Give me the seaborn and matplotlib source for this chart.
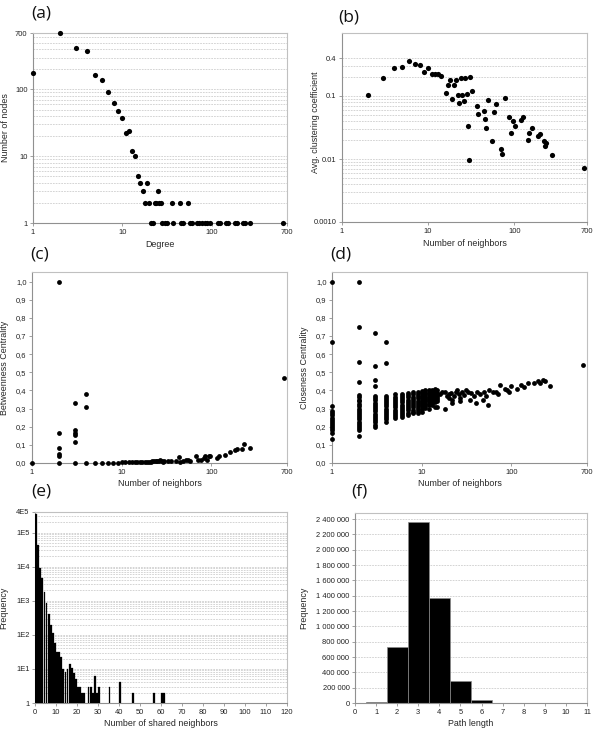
import numpy as np
import pandas as pd
import matplotlib
matplotlib.use("Agg")
import matplotlib.pyplot as plt
import seaborn as sns

# ---------------- data ----------------
# (a) degree distribution
a_degree = [1, 2, 3, 4, 5, 6, 7, 8, 9, 10, 11, 12, 13, 14, 15, 16, 17, 18, 19, 20,
            21, 22, 23, 24, 25, 26, 27, 28, 30, 32, 36, 37, 44, 46, 48, 54, 57, 61,
            68, 73, 79, 84, 90, 97, 119, 125, 144, 154, 182, 192, 224, 236, 273, 629]
a_nodes = [175, 690, 420, 375, 165, 140, 90, 62, 47, 37, 22, 24, 12, 10, 5, 4, 3, 2, 4, 2,
           1, 1, 2, 2, 3, 2, 2, 1, 1, 1, 2, 1, 2, 1, 1, 2, 1, 1,
           1, 1, 1, 1, 1, 1, 1, 1, 1, 1, 1, 1, 1, 1, 1, 1]

# (b) average clustering coefficient
b_neighbors = [2, 3, 4, 5, 6, 7, 8, 9, 10, 11, 12, 13, 14, 16, 17, 18, 19, 20, 21, 22,
               23, 24, 25, 26, 27, 28, 29, 30, 31, 32, 37, 38, 45, 46, 47, 50, 55,
               59, 62, 70, 72, 78, 86, 92, 96, 103, 120, 126, 145, 149, 162, 189, 198,
               224, 235, 226, 276, 643]
b_clustering = [0.102, 0.19, 0.28, 0.29, 0.36, 0.32, 0.31, 0.24, 0.28, 0.22, 0.225, 0.22,
                0.21, 0.113, 0.151, 0.179, 0.091, 0.151, 0.179, 0.102, 0.078, 0.19,
                0.102, 0.083, 0.195, 0.107, 0.034, 0.0096, 0.20, 0.12, 0.0695, 0.052,
                0.058, 0.043, 0.031, 0.086, 0.0193, 0.055, 0.076, 0.0142, 0.0121, 0.094,
                0.0466, 0.026, 0.0403, 0.0332, 0.042, 0.046, 0.0202, 0.026, 0.031,
                0.0231, 0.0248, 0.0193, 0.0179, 0.0158, 0.0116, 0.0073]

# (c) betweenness centrality
c_neighbors = [1, 2, 2, 2, 2, 2, 2, 3, 3, 3, 3, 3, 3, 4, 4, 4,
               5, 6, 7, 8, 9, 10, 11, 12, 13, 14, 15, 16, 17, 18, 19, 20, 21, 22, 23,
               24, 25, 26, 27, 28, 29, 30, 33, 36, 40,
               44, 45, 48, 52, 55, 58, 68, 72, 76, 82, 86, 90, 94, 98, 117, 123, 143,
               160, 184, 193, 218, 231, 271, 646]
c_betweenness = [0.0, 1.0, 0.167, 0.083, 0.05, 0.04, 0.0, 0.333, 0.18, 0.167, 0.155, 0.114,
                 0.0, 0.38, 0.31, 0.0,
                 0.0, 0.001, 0.001, 0.002, 0.002, 0.003, 0.003, 0.004, 0.004, 0.005,
                 0.005, 0.006, 0.006, 0.007, 0.007, 0.008, 0.008, 0.009, 0.010, 0.011,
                 0.012, 0.010, 0.014, 0.012, 0.008, 0.010, 0.011, 0.012, 0.010,
                 0.035, 0.008, 0.012, 0.016, 0.018, 0.010, 0.040, 0.016, 0.018, 0.028,
                 0.040, 0.018, 0.037, 0.040, 0.028, 0.037, 0.046, 0.060, 0.074, 0.077,
                 0.077, 0.103, 0.085, 0.469]

# (d) closeness centrality: columns of nodes for small neighbor counts
d_stack_k = [1, 2, 3, 4, 5, 6, 7, 8, 9, 10, 11, 12, 13, 14, 15]
d_stack_vals = [
    [1.0, 0.667, 0.313, 0.285, 0.273, 0.262, 0.25, 0.238, 0.227, 0.215, 0.203, 0.192, 0.18, 0.168, 0.13],
    [1.0, 0.75, 0.556, 0.445, 0.375, 0.362, 0.35, 0.34, 0.325, 0.313, 0.30, 0.288, 0.276, 0.264,
     0.252, 0.24, 0.228, 0.216, 0.204, 0.192, 0.18, 0.15],
    [0.714, 0.533, 0.46, 0.425, 0.37, 0.357, 0.345, 0.333, 0.32, 0.308, 0.296, 0.284, 0.272,
     0.26, 0.248, 0.236, 0.224, 0.21, 0.198],
    [0.667, 0.55, 0.372, 0.36, 0.348, 0.336, 0.324, 0.312, 0.30, 0.288, 0.276, 0.264, 0.252,
     0.24, 0.228],
    [0.378, 0.366, 0.354, 0.342, 0.33, 0.318, 0.306, 0.294, 0.282, 0.27, 0.258, 0.246],
    [0.382, 0.37, 0.358, 0.346, 0.334, 0.322, 0.31, 0.298, 0.286, 0.274, 0.262, 0.255],
    [0.386, 0.374, 0.362, 0.35, 0.338, 0.326, 0.314, 0.302, 0.29, 0.278, 0.266],
    [0.39, 0.378, 0.366, 0.354, 0.342, 0.33, 0.318, 0.306, 0.294, 0.282, 0.275],
    [0.392, 0.38, 0.368, 0.356, 0.344, 0.332, 0.32, 0.308, 0.296, 0.284, 0.276],
    [0.396, 0.384, 0.372, 0.36, 0.348, 0.336, 0.324, 0.312, 0.30, 0.28],
    [0.40, 0.388, 0.376, 0.364, 0.352, 0.34, 0.328, 0.316, 0.304],
    [0.402, 0.39, 0.378, 0.366, 0.354, 0.342, 0.33, 0.318, 0.30],
    [0.404, 0.392, 0.38, 0.368, 0.356, 0.344, 0.332, 0.32],
    [0.406, 0.394, 0.382, 0.37, 0.358, 0.346, 0.334, 0.31],
    [0.40, 0.388, 0.376, 0.364, 0.352, 0.34, 0.31],
]
d_neighbors = [16, 17, 18, 18, 19, 20, 20, 21, 22, 22, 23, 24, 25, 26, 27, 27, 28, 30, 31,
               33, 35, 36, 38, 40, 42, 45, 48, 50, 52, 55, 57, 62, 68, 72, 75, 85, 90, 95,
               100, 115, 129, 140, 155, 180, 198, 210, 226, 235, 268, 635]
d_closeness = [0.38, 0.39, 0.30, 0.39, 0.37, 0.38, 0.36, 0.385, 0.35, 0.33, 0.37, 0.39,
               0.40, 0.38, 0.34, 0.36, 0.39, 0.375, 0.40, 0.39, 0.35, 0.385, 0.37, 0.33,
               0.39, 0.38, 0.35, 0.39, 0.37, 0.32, 0.40, 0.39, 0.39, 0.38, 0.432, 0.41,
               0.40, 0.39, 0.423, 0.41, 0.432, 0.42, 0.44, 0.44, 0.45, 0.44, 0.456, 0.45,
               0.426, 0.542]

# (e) shared neighbors distribution
e_shared = [1, 2, 3, 4, 5, 6, 7, 8, 9, 10, 11, 12, 13, 14, 15, 16, 17, 18, 19, 20, 21, 22,
            23, 24, 26, 27, 28, 29, 30, 31, 36, 41, 47, 57, 61, 62]
e_freq = [350000, 44000, 9000, 4600, 1800, 870, 410, 200, 110, 59, 32, 31, 22, 10, 8, 10,
          13.6, 10.4, 7.7, 4.9, 3, 3, 2, 2, 3, 3, 2, 6, 2, 3, 3, 4, 2, 2, 2, 2]

# (f) path length distribution
f_length = [1, 2, 3, 4, 5, 6, 7, 8, 9, 10]
f_freq = [13000, 730000, 2360000, 1375000, 288000, 40000, 6000, 1000, 200, 0]

# ---------------- style ----------------
sns.set_style("white")
plt.rcParams["font.family"] = ["Liberation Sans", "DejaVu Sans"]

fig = plt.figure(figsize=(6, 7.5), dpi=100)

def add_ax(l, t, r, b):
    return fig.add_axes([l / 600, 1 - b / 750, (r - l) / 600, (b - t) / 750])

TICK_FS = 5.4
LAB_FS = 6.4
GRID = dict(color="#c4c4c4", linestyle=(0, (2.5, 1.5)), linewidth=0.5)

def style(ax):
    for s in ax.spines.values():
        s.set_color("#c0c0c0")
        s.set_linewidth(0.8)
    ax.spines["left"].set_color("#909090")
    ax.spines["bottom"].set_color("#909090")
    ax.tick_params(which="major", length=2, width=0.6, color="#909090",
                   labelsize=TICK_FS, pad=2, labelcolor="#222222",
                   left=True, bottom=True)
    ax.tick_params(which="minor", length=0)
    ax.set_axisbelow(True)

def panel_label(x, y, s):
    fig.text(x / 600, 1 - y / 750, s, fontsize=12.5, va="top", ha="left",
             family=["Open Sans", "DejaVu Sans"], color="#111111")

def log_minor(lo_exp, hi_exp, upto=None):
    vals = []
    for e in range(lo_exp, hi_exp + 1):
        for m in range(2, 10):
            v = m * 10.0 ** e
            if upto is None or v <= upto * 1.0001:
                vals.append(v)
    return vals

# ---------- (a) ----------
ax = add_ax(33, 33, 287, 223)
sns.scatterplot(x=a_degree, y=a_nodes, color="black", s=14, linewidth=0, ax=ax,
                clip_on=False, zorder=3)
ax.set_xscale("log"); ax.set_yscale("log")
ax.set_xlim(1, 700); ax.set_ylim(1, 700)
ax.set_xticks([1, 10, 100, 700], ["1", "10", "100", "700"])
ax.set_xticks([], minor=True)
ax.set_yticks([1, 10, 100, 700], ["1", "10", "100", "700"])
ax.set_yticks(log_minor(0, 2, upto=600), minor=True)
ax.yaxis.grid(True, which="both", **GRID)
style(ax)
ax.set_xlabel("Degree", fontsize=LAB_FS)
ax.set_ylabel("Number of nodes", fontsize=LAB_FS)
ax.xaxis.set_label_coords(0.5, -0.09)
ax.yaxis.set_label_coords(-0.09, 0.5)
panel_label(31, 5, "(a)")

# ---------- (b) ----------
ax = add_ax(342, 33, 587, 222)
sns.scatterplot(x=b_neighbors, y=b_clustering, color="black", s=14, linewidth=0, ax=ax,
                clip_on=False, zorder=3)
ax.set_xscale("log"); ax.set_yscale("log")
ax.set_xlim(1, 700); ax.set_ylim(0.001, 1.0)
ax.set_xticks([1, 10, 100, 700], ["1", "10", "100", "700"])
ax.set_xticks([], minor=True)
ax.set_yticks([0.001, 0.01, 0.1, 0.4], ["0.0010", "0.01", "0.1", "0.4"])
ax.set_yticks(log_minor(-3, -1, upto=0.3), minor=True)
ax.yaxis.grid(True, which="both", **GRID)
style(ax)
ax.set_xlabel("Number of neighbors", fontsize=LAB_FS)
ax.set_ylabel("Avg. clustering coefficient", fontsize=LAB_FS)
ax.xaxis.set_label_coords(0.5, -0.09)
ax.yaxis.set_label_coords(-0.09, 0.53)
panel_label(338, 9, "(b)")

# ---------- (c) ----------
ax = add_ax(32, 272, 287, 463)
sns.scatterplot(x=c_neighbors, y=c_betweenness, color="black", s=12, linewidth=0, ax=ax,
                clip_on=False, zorder=3)
ax.set_xscale("log")
ax.set_xlim(1, 700); ax.set_ylim(0, 1.053)
ax.set_xticks([1, 10, 100, 700], ["1", "10", "100", "700"])
ax.set_xticks([], minor=True)
yt = [i / 10 for i in range(11)]
ax.set_yticks(yt, [f"{v:.1f}".replace(".", ",") for v in yt])
style(ax)
ax.set_xlabel("Number of neighbors", fontsize=LAB_FS)
ax.set_ylabel("Betweenness Centrality", fontsize=LAB_FS)
ax.xaxis.set_label_coords(0.5, -0.085)
ax.yaxis.set_label_coords(-0.09, 0.5)
panel_label(30, 246, "(c)")

# ---------- (d) ----------
ax = add_ax(332, 272, 587, 463)
dx = [k for k, vals in zip(d_stack_k, d_stack_vals) for _ in vals] + d_neighbors
dy = [v for vals in d_stack_vals for v in vals] + d_closeness
sns.scatterplot(x=dx, y=dy, color="black", s=12, linewidth=0, ax=ax,
                clip_on=False, zorder=3)
ax.set_xscale("log")
ax.set_xlim(1, 700); ax.set_ylim(0, 1.053)
ax.set_xticks([1, 10, 100, 700], ["1", "10", "100", "700"])
ax.set_xticks([], minor=True)
ax.set_yticks(yt, [f"{v:.1f}".replace(".", ",") for v in yt])
style(ax)
ax.set_xlabel("Number of neighbors", fontsize=LAB_FS)
ax.set_ylabel("Closeness Centrality", fontsize=LAB_FS)
ax.xaxis.set_label_coords(0.5, -0.085)
ax.yaxis.set_label_coords(-0.09, 0.5)
panel_label(330, 246, "(d)")

# ---------- (e) ----------
ax = add_ax(35, 512, 287, 703)
ax.set_yscale("log")
ax.bar(np.array(e_shared) - 0.5, e_freq, width=0.85, color="black",
       edgecolor="black", linewidth=0.2, zorder=3)
ax.set_xlim(0, 120); ax.set_ylim(1, 4e5)
ax.set_xticks(list(range(0, 121, 10)), [str(v) for v in range(0, 121, 10)])
ax.set_xticks([], minor=True)
ax.set_yticks([1, 10, 100, 1e3, 1e4, 1e5, 4e5],
              ["1", "1E1", "1E2", "1E3", "1E4", "1E5", "4E5"])
ax.set_yticks(log_minor(0, 5, upto=3e5), minor=True)
ax.yaxis.grid(True, which="both", **GRID)
ax.xaxis.grid(False)
style(ax)
ax.set_xlabel("Number of shared neighbors", fontsize=LAB_FS)
ax.set_ylabel("Frequency", fontsize=LAB_FS)
ax.xaxis.set_label_coords(0.5, -0.085)
ax.yaxis.set_label_coords(-0.105, 0.5)
panel_label(31, 484, "(e)")

# ---------- (f) ----------
ax = add_ax(355, 513, 587, 703)
f_df = pd.DataFrame({"length": f_length, "freq": f_freq})
sns.barplot(data=f_df, x="length", y="freq", native_scale=True, width=1.0,
            color="black", saturation=1, errorbar=None,
            edgecolor="#8a8a8a", linewidth=0.5, ax=ax)
ax.set_xlim(0, 11); ax.set_ylim(0, 2.48e6)
ax.set_xticks(list(range(0, 12)), [str(v) for v in range(0, 12)])
ft = list(range(0, 2400001, 200000))
ax.set_yticks(ft, [f"{v:,}".replace(",", " ") for v in ft])
ax.yaxis.grid(True, which="major", **GRID)
ax.xaxis.grid(False)
style(ax)
ax.set_xlabel("Path length", fontsize=LAB_FS)
ax.set_ylabel("Frequency", fontsize=LAB_FS)
ax.xaxis.set_label_coords(0.5, -0.085)
ax.yaxis.set_label_coords(-0.2, 0.5)
panel_label(351, 484, "(f)")

fig.savefig("out.png", dpi=100)
